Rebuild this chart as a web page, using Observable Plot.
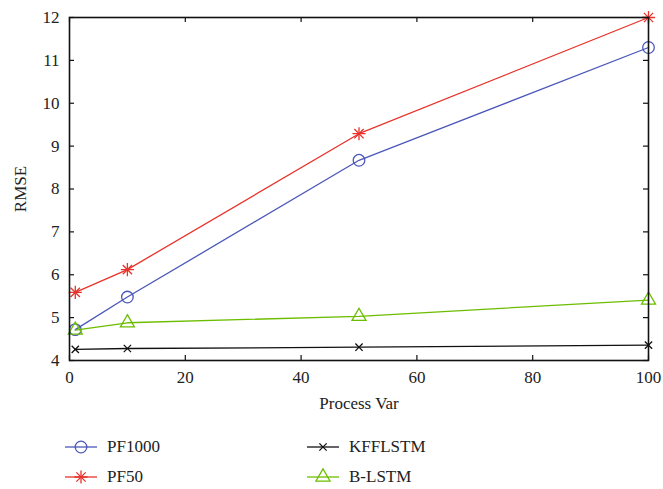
<!DOCTYPE html>
<html><head><meta charset="utf-8">
<script src="https://cdn.jsdelivr.net/npm/d3@7"></script>
<script src="https://cdn.jsdelivr.net/npm/@observablehq/plot@0.6"></script>
<style>
body{margin:0;background:#fff;font-family:"Liberation Serif","Times New Roman","DejaVu Serif",serif;}
#chart{width:663px;height:489px;position:relative;overflow:hidden}
.legend{display:grid;grid-template-columns:242px 242px;padding-left:65px;padding-top:7px}
.item{height:30px;display:flex;align-items:center;font-size:17px;color:#222}
.item svg{margin-right:10px;overflow:visible}
</style></head><body><div id="chart"></div>
<script>
const processVar = [1, 10, 50, 100];
const pf1000 = [4.72, 5.48, 8.67, 11.3];
const pf50 = [5.59, 6.12, 9.29, 12.0];
const kfflstm = [4.26, 4.28, 4.31, 4.36];
const blstm = [4.71, 4.88, 5.03, 5.41];
const seriesNames = ["PF1000", "PF50", "KFFLSTM", "B-LSTM"];
const seriesColors = ["#4b58b8", "#e8322a", "#111111", "#6cbd00"];
const xTicks = [0, 20, 40, 60, 80, 100];
const yTicks = [4, 5, 6, 7, 8, 9, 10, 11, 12];

const values = [pf1000, pf50, kfflstm, blstm];
const W = 663, H = 425, mT = 17, mB = H - 360, mL = 69, mR = 15;
const plotH = H - mT - mB, plotW = W - mL - mR, tk = 5;
const fontStack = "'Liberation Serif', 'Times New Roman', 'DejaVu Serif', serif";

const seriesData = values.map((v, i) => processVar.map((x, j) => ({series: seriesNames[i], x, y: v[j]})));

const marks = [];
marks.push(Plot.tickX(xTicks, {x: d => d, insetTop: plotH - tk, stroke: "#111", strokeWidth: 1.2}));
marks.push(Plot.tickX(xTicks, {x: d => d, insetBottom: plotH - tk, stroke: "#111", strokeWidth: 1.2}));
marks.push(Plot.tickY(yTicks, {y: d => d, insetRight: plotW - tk, stroke: "#111", strokeWidth: 1.2}));
marks.push(Plot.tickY(yTicks, {y: d => d, insetLeft: plotW - tk, stroke: "#111", strokeWidth: 1.2}));

const symbolSpecs = [
  [{symbol: "circle", r: 5.8}],
  [{symbol: "plus", r: 4.3}, {symbol: "times", r: 4.3}],
  [{symbol: "times", r: 3.4}],
  [{symbol: "triangle", r: 5.2}]
];
seriesData.forEach((d, i) => {
  marks.push(Plot.line(d, {x: "x", y: "y", stroke: seriesColors[i], strokeWidth: 1.3}));
  symbolSpecs[i].forEach(s => marks.push(Plot.dot(d, {x: "x", y: "y", symbol: s.symbol, r: s.r, stroke: seriesColors[i], fill: "none", strokeWidth: 1.3})));
});
marks.push(Plot.frame({stroke: "#111", strokeWidth: 1.6}));

const plot = Plot.plot({
  width: W, height: H,
  marginTop: mT, marginBottom: mB, marginLeft: mL, marginRight: mR,
  style: {fontFamily: fontStack, fontSize: "17px", color: "#222", background: "#fff"},
  x: {domain: [0, 100], ticks: xTicks, tickSize: 0, tickPadding: 10, label: "Process Var", labelArrow: "none", labelAnchor: "center", labelOffset: 48},
  y: {domain: [4, 12], ticks: yTicks, tickSize: 0, tickPadding: 10, label: "RMSE", labelArrow: "none", labelAnchor: "center", labelOffset: 56},
  marks
});
const chart = document.getElementById("chart");
chart.appendChild(plot);

const legend = document.createElement("div");
legend.className = "legend";
const order = [0, 2, 1, 3];
const typeMap = {circle: d3.symbolCircle, plus: d3.symbolPlus, times: d3.symbolTimes, triangle: d3.symbolTriangle};
order.forEach(i => {
  const item = document.createElement("div");
  item.className = "item";
  const sw = d3.create("svg").attr("width", 32).attr("height", 14);
  sw.append("line").attr("x1", 0).attr("x2", 32).attr("y1", 7).attr("y2", 7).attr("stroke", seriesColors[i]).attr("stroke-width", 1.3);
  symbolSpecs[i].forEach(s => {
    sw.append("path").attr("transform", "translate(16,7)")
      .attr("d", d3.symbol(typeMap[s.symbol], Math.PI * s.r * s.r)())
      .attr("fill", "none").attr("stroke", seriesColors[i]).attr("stroke-width", 1.3);
  });
  item.appendChild(sw.node());
  const t = document.createElement("span");
  t.textContent = seriesNames[i];
  item.appendChild(t);
  legend.appendChild(item);
});
chart.appendChild(legend);
</script></body></html>
